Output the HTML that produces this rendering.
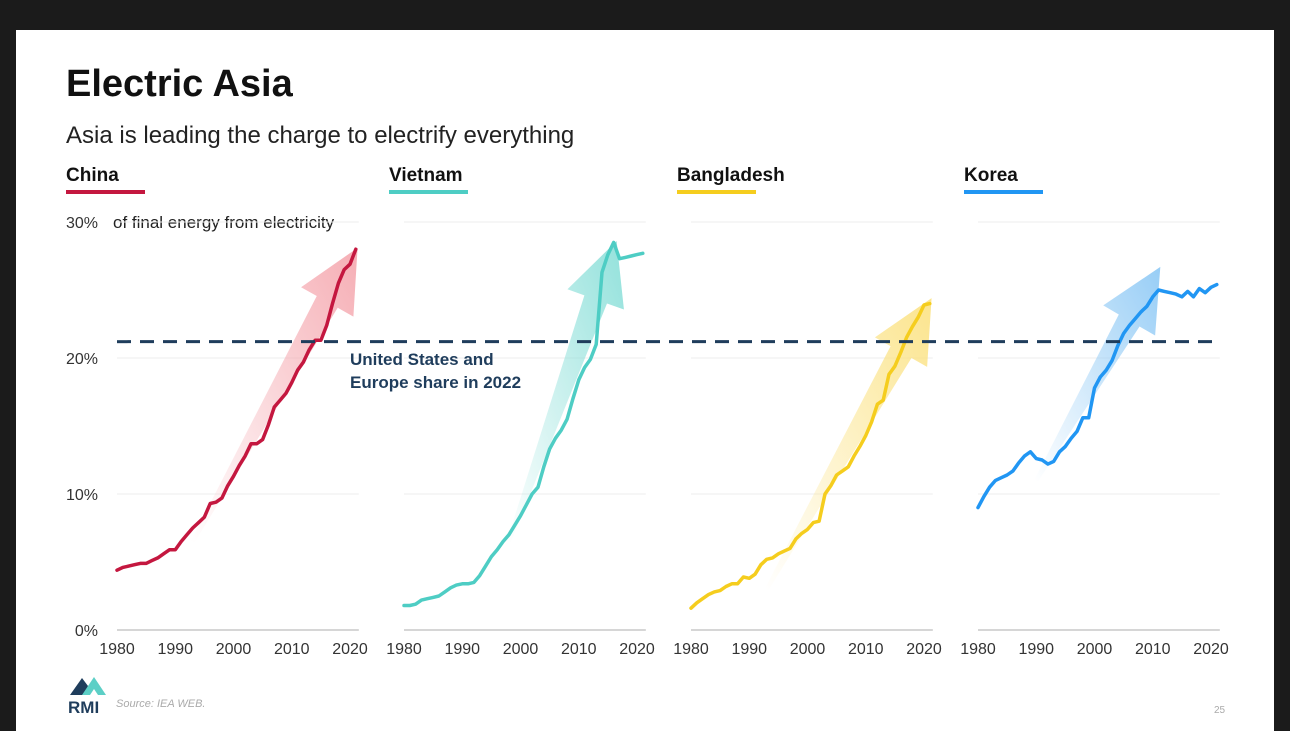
<!DOCTYPE html>
<html><head><meta charset="utf-8"><style>
html,body{margin:0;padding:0;background:#1b1b1b;}
svg{display:block;font-family:"Liberation Sans",sans-serif;}
</style></head><body>
<svg id="chart" width="1290" height="731" viewBox="0 0 1290 731" xmlns="http://www.w3.org/2000/svg">
<defs>
<linearGradient id="g-china" x1="0" y1="1" x2="1" y2="0"><stop offset="0" stop-color="#f4a0a8" stop-opacity="0"/><stop offset="1" stop-color="#f4a0a8" stop-opacity="0.85"/></linearGradient>
<linearGradient id="g-vietnam" x1="0" y1="1" x2="1" y2="0"><stop offset="0" stop-color="#7fdcd5" stop-opacity="0"/><stop offset="1" stop-color="#7fdcd5" stop-opacity="0.85"/></linearGradient>
<linearGradient id="g-bangladesh" x1="0" y1="1" x2="1" y2="0"><stop offset="0" stop-color="#fbe07a" stop-opacity="0"/><stop offset="1" stop-color="#fbe07a" stop-opacity="0.85"/></linearGradient>
<linearGradient id="g-korea" x1="0" y1="1" x2="1" y2="0"><stop offset="0" stop-color="#8cc8f5" stop-opacity="0"/><stop offset="1" stop-color="#8cc8f5" stop-opacity="0.9"/></linearGradient>
</defs>
<rect x="16" y="30" width="1258" height="701" fill="#ffffff"/>
<text x="66" y="96" font-size="38" font-weight="bold" fill="#111">Electric Asia</text>
<text x="66" y="143" font-size="24" fill="#222">Asia is leading the charge to electrify everything</text>
<text x="113" y="228" font-size="17" fill="#222">of final energy from electricity</text>
<g id="plots"></g>
<text x="350" y="365" font-size="17" font-weight="bold" fill="#1f3d5c">United States and</text>
<text x="350" y="388" font-size="17" font-weight="bold" fill="#1f3d5c">Europe share in 2022</text>
<g>
<polygon points="70,695 82,678 88,686 84,695" fill="#1f3d5c"/>
<polygon points="82,695 94,677 106,695 98,695 94,689 90,695" fill="#5ccfc6"/>
<text x="68" y="713" font-size="17" font-weight="bold" fill="#1f3d5c">RMI</text>
</g>
<text x="116" y="707" font-size="11" font-style="italic" fill="#aaa">Source: IEA WEB.</text>
<text x="1214" y="713" font-size="10" fill="#aaa">25</text>
</svg>
<script>
const years = [];
for (let y = 1980; y <= 2021; y++) years.push(y);
const countries = ["China", "Vietnam", "Bangladesh", "Korea"];
const chinaValues = [4.4,4.6,4.7,4.8,4.9,4.9,5.1,5.3,5.6,5.9,5.9,6.5,7.0,7.5,7.9,8.3,9.3,9.4,9.7,10.6,11.3,12.1,12.8,13.7,13.7,14.0,15.1,16.4,16.9,17.4,18.2,19.1,19.7,20.6,21.3,21.3,22.4,24.0,25.5,26.5,26.9,28.0];
const vietnamValues = [1.8,1.8,1.9,2.2,2.3,2.4,2.5,2.8,3.1,3.3,3.4,3.4,3.5,4.0,4.7,5.4,5.9,6.5,7.0,7.7,8.4,9.2,10.0,10.5,12.0,13.3,14.1,14.7,15.5,17.0,18.4,19.3,19.9,21.0,26.3,27.6,28.5,27.3,27.4,27.5,27.6,27.7];
const bangladeshValues = [1.6,2.0,2.3,2.6,2.8,2.9,3.2,3.4,3.4,3.9,3.8,4.1,4.8,5.2,5.3,5.6,5.8,6.0,6.7,7.1,7.4,7.9,8.0,10.0,10.6,11.4,11.7,12.0,12.8,13.5,14.3,15.3,16.6,16.9,18.8,19.4,20.4,21.5,22.3,23.0,23.9,24.0];
const koreaValues = [9.0,9.8,10.5,11.0,11.2,11.4,11.7,12.3,12.8,13.1,12.6,12.5,12.2,12.4,13.1,13.5,14.1,14.6,15.6,15.6,17.8,18.6,19.1,19.8,20.9,21.8,22.4,22.9,23.4,23.8,24.5,25.0,24.9,24.8,24.7,24.5,24.9,24.5,25.1,24.8,25.2,25.4];
const series = [chinaValues, vietnamValues, bangladeshValues, koreaValues];
const colors = ["#c4173f", "#4ecdc4", "#f5cd1e", "#2196f3"];
const gradIds = ["g-china", "g-vietnam", "g-bangladesh", "g-korea"];
// arrows: [tailYear, tailValue, tipYear, tipValue]
const arrowTails = [[1993, 6.5], [1998, 6.5], [1993, 3.0], [1990, 11.0]];
const arrowTips = [[2021.3, 28.1], [2016.5, 28.6], [2021.3, 24.4], [2011.3, 26.7]];
const yTicks = [0, 10, 20, 30];
const yTickLabels = ["0%", "10%", "20%", "30%"];
const xTicks = [1980, 1990, 2000, 2010, 2020];
const referenceValue = 21.2;

const NS = "http://www.w3.org/2000/svg";
const panelX0 = [117, 404, 691, 978];
const pxPerYear = 5.825;
const yScale = v => 630 - v * 13.6;
const plots = document.getElementById("plots");
function mk(tag, attrs, parent) {
  const e = document.createElementNS(NS, tag);
  for (const k in attrs) e.setAttribute(k, attrs[k]);
  (parent || plots).appendChild(e);
  return e;
}
yTicks.forEach((t, i) => {
  const lbl = mk("text", {x: 98, y: yScale(t) + 6, "font-size": 16, fill: "#333", "text-anchor": "end"});
  lbl.textContent = yTickLabels[i];
  
  
});
countries.forEach((c, p) => {
  const xs = y => panelX0[p] + (y - 1980) * pxPerYear;
  const g = mk("g", {});
  
  
  const hx = [66, 389, 677, 964][p];
  const h = mk("text", {x: hx, y: 181, "font-size": 19, "font-weight": "bold", fill: "#111"}, g);
  h.textContent = c;
  
  
  const u = mk("rect", {x: hx, y: 190, width: 79, height: 4, fill: colors[p]}, g);
  
  
  yTicks.forEach(t => {
    const gl = mk("line", {x1: xs(1980), x2: xs(2021) + 3, y1: yScale(t), y2: yScale(t), stroke: t === 0 ? "#c8c8c8" : "#eeeeee", "stroke-width": t === 0 ? 1.5 : 1}, g);
    
    
  });
  xTicks.forEach(t => {
    const xl = mk("text", {x: xs(t), y: 654, "font-size": 16, fill: "#333", "text-anchor": "middle"}, g);
    xl.textContent = t;
    
    
  });
  // arrow
  const [ty, tv] = arrowTails[p], [hy, hv] = arrowTips[p];
  const x1 = xs(ty), y1 = yScale(tv), x2 = xs(hy), y2 = yScale(hv);
  const dx = x2 - x1, dy = y2 - y1, L = Math.hypot(dx, dy);
  const ux = dx / L, uy = dy / L, nx = -uy, ny = ux;
  const sw = 12, hw = 30, hl = 62;
  const bx = x2 - ux * hl, by = y2 - uy * hl;
  const pts = [[x1 + nx * 2, y1 + ny * 2], [bx + nx * sw, by + ny * sw], [bx + nx * hw, by + ny * hw], [x2, y2], [bx - nx * hw, by - ny * hw], [bx - nx * sw, by - ny * sw], [x1 - nx * 2, y1 - ny * 2]];
  const ar = mk("polygon", {points: pts.map(q => q.join(",")).join(" "), fill: "url(#" + gradIds[p] + ")"}, g);
  
  
  const d = series[p].map((v, i) => (i ? "L" : "M") + xs(years[i]).toFixed(1) + "," + yScale(v).toFixed(1)).join(" ");
  const ln = mk("path", {d: d, fill: "none", stroke: colors[p], "stroke-width": 3.5, "stroke-linejoin": "round", "stroke-linecap": "round"}, g);
  
  
});
const ref = mk("line", {x1: 117, x2: 1220, y1: yScale(referenceValue), y2: yScale(referenceValue), stroke: "#1f3d5c", "stroke-width": 3, "stroke-dasharray": "14,9"});


</script>
</body></html>
